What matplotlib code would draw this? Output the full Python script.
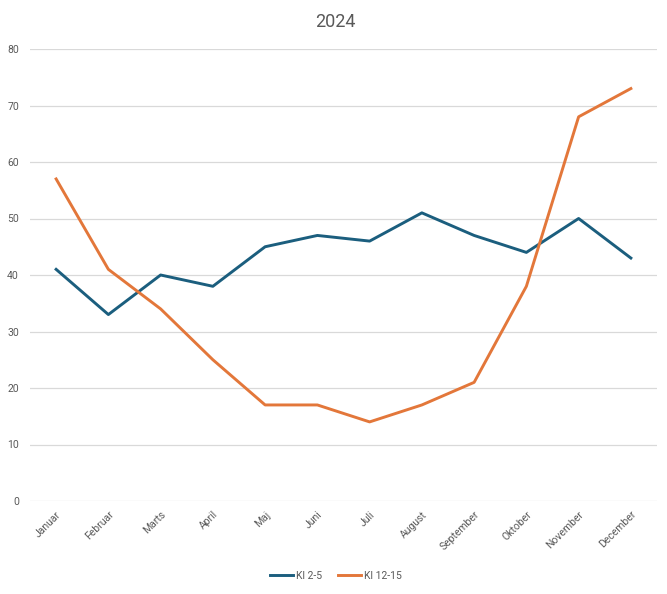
import matplotlib
matplotlib.use("Agg")
import matplotlib.pyplot as plt

months = ["Januar", "Februar", "Marts", "April", "Maj", "Juni", "Juli",
          "August", "September", "Oktober", "November", "December"]
kl_2_5 = [41, 33, 40, 38, 45, 47, 46, 51, 47, 44, 50, 43]
kl_12_15 = [57, 41, 34, 25, 17, 17, 14, 17, 21, 38, 68, 73]
series_names = ["Kl 2-5", "Kl 12-15"]
yticks = [0, 10, 20, 30, 40, 50, 60, 70, 80]

plt.rcParams['font.family'] = ['Roboto', 'DejaVu Sans']
txt = "#595959"

fig = plt.figure(figsize=(6.67, 5.94), dpi=100)
ax = fig.add_axes([30/667, (594-501)/594, (657-30)/667, (501-49)/594])

x = list(range(len(months)))
ax.plot(x, kl_2_5, color="#1B5E7E", lw=2.1, label=series_names[0], solid_joinstyle="round")
ax.plot(x, kl_12_15, color="#E3773A", lw=2.1, label=series_names[1], solid_joinstyle="round")

ax.set_xlim(-0.5, len(months) - 0.5)
ax.set_ylim(0, 80)
ax.set_yticks(yticks)
ax.set_yticklabels([str(v) for v in yticks], color=txt, fontsize=7.5)
ax.set_xticks(x)
ax.set_xticklabels(months, rotation=45, ha="right", rotation_mode="anchor",
                   color=txt, fontsize=7.5)
ax.tick_params(axis="both", length=0, pad=8)
ax.tick_params(axis="x", pad=6)
ax.grid(axis="y", color="#D9D9D9", lw=0.9)
ax.set_axisbelow(True)
for s in ax.spines.values():
    s.set_visible(False)

fig.text(335/667, 1 - 22/594, "2024", ha="center", va="center", fontsize=13, color=txt)

fig.legend(loc="center", bbox_to_anchor=(336/667, 1 - 576/594), ncol=2, frameon=False,
           fontsize=7.5, labelcolor=txt, handlelength=2.2, columnspacing=1.5,
           handletextpad=0.3)

fig.savefig("out.png", dpi=100, facecolor="white")
